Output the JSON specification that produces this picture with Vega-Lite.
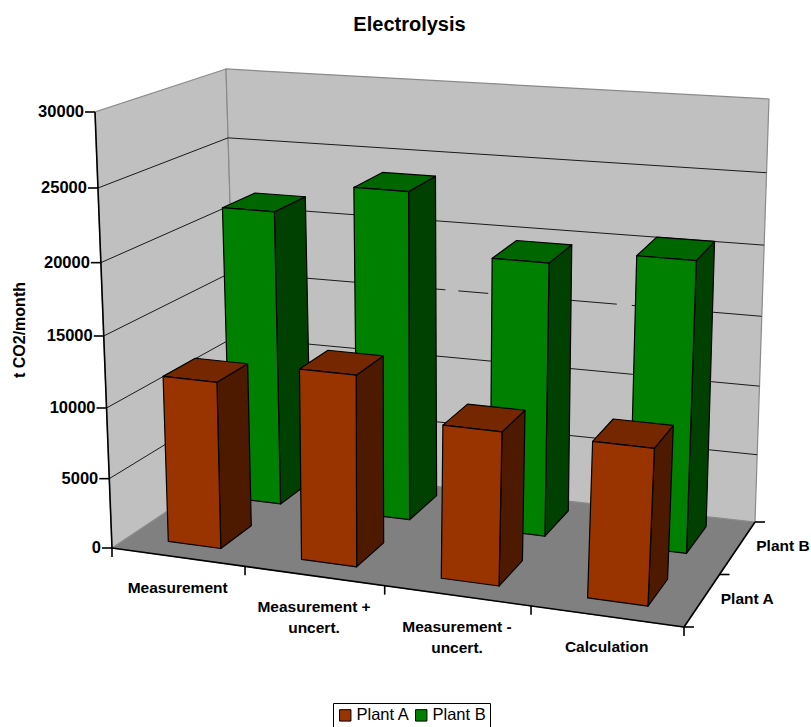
{
  "$schema": "https://vega.github.io/schema/vega-lite/v6.json",
  "width": 811,
  "height": 727,
  "padding": 0,
  "autosize": {"type": "none"},
  "background": "white",
  "config": {"view": {"stroke": null}},
  "title": {"text": "Electrolysis", "font": "Liberation Sans", "fontSize": 20, "fontWeight": "bold", "color": "#000", "anchor": "middle", "frame": "group", "dx": 4, "dy": 39},
  "datasets": {
    "emissions": [
      {"category": "Measurement", "plant": "Plant B", "value": 21500},
      {"category": "Measurement + uncert.", "plant": "Plant B", "value": 23650},
      {"category": "Measurement - uncert.", "plant": "Plant B", "value": 19500},
      {"category": "Calculation", "plant": "Plant B", "value": 20500},
      {"category": "Measurement", "plant": "Plant A", "value": 11850},
      {"category": "Measurement + uncert.", "plant": "Plant A", "value": 13400},
      {"category": "Measurement - uncert.", "plant": "Plant A", "value": 10650},
      {"category": "Calculation", "plant": "Plant A", "value": 10700}
    ],
    "levels": [{"v": 5000}, {"v": 10000}, {"v": 15000}, {"v": 20000}, {"v": 25000}, {"v": 30000}],
    "ticks": [
      {"axis": "value", "t": 0}, {"axis": "value", "t": 5000}, {"axis": "value", "t": 10000}, {"axis": "value", "t": 15000},
      {"axis": "value", "t": 20000}, {"axis": "value", "t": 25000}, {"axis": "value", "t": 30000},
      {"axis": "cat", "t": 0}, {"axis": "cat", "t": 0.25}, {"axis": "cat", "t": 0.5}, {"axis": "cat", "t": 0.75}, {"axis": "cat", "t": 1},
      {"axis": "depth", "t": 0}, {"axis": "depth", "t": 0.5}, {"axis": "depth", "t": 1}
    ]
  },
  "encoding": {
    "x": {"field": "px", "type": "quantitative", "axis": null, "scale": {"domain": [0, 811], "range": [0, 811], "nice": false, "zero": false}},
    "y": {"field": "py", "type": "quantitative", "axis": null, "scale": {"domain": [0, 727], "range": [0, 727], "nice": false, "zero": false}}
  },
  "layer": [
    {
      "data": {"values": [{"surface": "floor"}, {"surface": "left wall"}, {"surface": "back wall"}]},
      "transform": [
        {"calculate": "[0,1,2,3]", "as": "k"},
        {"flatten": ["k"]},
        {"calculate": "datum.surface=='left wall' ? 0 : datum.surface=='back wall' ? [0,1,1,0][datum.k] : [0,1,1,0][datum.k]", "as": "u"},
        {"calculate": "datum.surface=='left wall' ? [0,1,1,0][datum.k] : datum.surface=='back wall' ? 1 : [0,0,1,1][datum.k]", "as": "w"},
        {"calculate": "datum.surface=='left wall' ? [0,0,1,1][datum.k] : datum.surface=='back wall' ? [0,0,1,1][datum.k] : 0", "as": "h"},
        {"calculate": "datum.u-0.093*datum.u*(1-datum.u)", "as": "uu"},
        {"calculate": "datum.h-0.055*datum.h*(1-datum.h)", "as": "hh"},
        {"calculate": "(1-datum.hh)*((1-datum.w)*((1-datum.uu)*112+datum.uu*684)+datum.w*((1-datum.uu)*238+datum.uu*755))+datum.hh*((1-datum.w)*((1-datum.uu)*95+datum.uu*707)+datum.w*((1-datum.uu)*226+datum.uu*769))", "as": "px"},
        {"calculate": "(1-datum.hh)*((1-datum.w)*((1-datum.uu)*548+datum.uu*627)+datum.w*((1-datum.uu)*464+datum.uu*522))+datum.hh*((1-datum.w)*((1-datum.uu)*112+datum.uu*160)+datum.w*((1-datum.uu)*69+datum.uu*99))", "as": "py"}
      ],
      "mark": {"type": "line", "interpolate": "linear-closed", "stroke": "#8a8a8a", "strokeWidth": 1.2},
      "encoding": {
        "fill": {"field": "surface", "type": "nominal", "scale": {"domain": ["Plant A", "Plant B", "Plant A top", "Plant B top", "Plant A side", "Plant B side", "floor", "left wall", "back wall"], "range": ["#993300", "#008000", "#752800", "#006600", "#4d1a00", "#004000", "#808080", "#c0c0c0", "#c0c0c0"]}, "legend": {"values": ["Plant A", "Plant B"], "title": null, "orient": "none", "legendX": 333, "legendY": 703, "direction": "horizontal", "columns": 2, "columnPadding": 3, "symbolType": "square", "symbolSize": 130, "symbolStrokeColor": "#000", "symbolStrokeWidth": 1, "labelFont": "Liberation Sans", "labelFontSize": 16.5, "labelColor": "#000", "labelOffset": 3, "strokeColor": "#000", "fillColor": "#fff", "padding": 4, "symbolOpacity": 1}},
        "order": {"field": "k"}
      }
    },
    {
      "data": {"name": "levels"},
      "transform": [
        {"calculate": "[0,1]", "as": "k"},
        {"flatten": ["k"]},
        {"calculate": "0", "as": "u"},
        {"calculate": "datum.k", "as": "w"},
        {"calculate": "datum.v/30000", "as": "h"},
        {"calculate": "datum.u-0.093*datum.u*(1-datum.u)", "as": "uu"},
        {"calculate": "datum.h-0.055*datum.h*(1-datum.h)", "as": "hh"},
        {"calculate": "(1-datum.hh)*((1-datum.w)*((1-datum.uu)*112+datum.uu*684)+datum.w*((1-datum.uu)*238+datum.uu*755))+datum.hh*((1-datum.w)*((1-datum.uu)*95+datum.uu*707)+datum.w*((1-datum.uu)*226+datum.uu*769))", "as": "px"},
        {"calculate": "(1-datum.hh)*((1-datum.w)*((1-datum.uu)*548+datum.uu*627)+datum.w*((1-datum.uu)*464+datum.uu*522))+datum.hh*((1-datum.w)*((1-datum.uu)*112+datum.uu*160)+datum.w*((1-datum.uu)*69+datum.uu*99))", "as": "py"},
        {"filter": "datum.v<30000"}
      ],
      "mark": {"type": "line", "stroke": "#1a1a1a", "strokeWidth": 1},
      "encoding": {"detail": {"field": "v"}, "order": {"field": "k"}}
    },
    {
      "data": {"name": "levels"},
      "transform": [
        {"filter": "datum.v<30000 && datum.v!=15000"},
        {"calculate": "[0,1]", "as": "u"},
        {"flatten": ["u"]},
        {"calculate": "1", "as": "w"},
        {"calculate": "datum.v/30000", "as": "h"},
        {"calculate": "datum.u-0.093*datum.u*(1-datum.u)", "as": "uu"},
        {"calculate": "datum.h-0.055*datum.h*(1-datum.h)", "as": "hh"},
        {"calculate": "(1-datum.hh)*((1-datum.w)*((1-datum.uu)*112+datum.uu*684)+datum.w*((1-datum.uu)*238+datum.uu*755))+datum.hh*((1-datum.w)*((1-datum.uu)*95+datum.uu*707)+datum.w*((1-datum.uu)*226+datum.uu*769))", "as": "px"},
        {"calculate": "(1-datum.hh)*((1-datum.w)*((1-datum.uu)*548+datum.uu*627)+datum.w*((1-datum.uu)*464+datum.uu*522))+datum.hh*((1-datum.w)*((1-datum.uu)*112+datum.uu*160)+datum.w*((1-datum.uu)*69+datum.uu*99))", "as": "py"}
      ],
      "mark": {"type": "line", "stroke": "#1a1a1a", "strokeWidth": 1},
      "encoding": {"detail": {"field": "v"}, "order": {"field": "u"}}
    },
    {
      "data": {"name": "levels"},
      "transform": [
        {"filter": "datum.v==15000"},
        {"calculate": "[0,1]", "as": "u"},
        {"flatten": ["u"]},
        {"calculate": "1", "as": "w"},
        {"calculate": "datum.v/30000", "as": "h"},
        {"calculate": "datum.u-0.093*datum.u*(1-datum.u)", "as": "uu"},
        {"calculate": "datum.h-0.055*datum.h*(1-datum.h)", "as": "hh"},
        {"calculate": "(1-datum.hh)*((1-datum.w)*((1-datum.uu)*112+datum.uu*684)+datum.w*((1-datum.uu)*238+datum.uu*755))+datum.hh*((1-datum.w)*((1-datum.uu)*95+datum.uu*707)+datum.w*((1-datum.uu)*226+datum.uu*769))", "as": "px"},
        {"calculate": "(1-datum.hh)*((1-datum.w)*((1-datum.uu)*548+datum.uu*627)+datum.w*((1-datum.uu)*464+datum.uu*522))+datum.hh*((1-datum.w)*((1-datum.uu)*112+datum.uu*160)+datum.w*((1-datum.uu)*69+datum.uu*99))", "as": "py"}
      ],
      "mark": {"type": "line", "stroke": "#1a1a1a", "strokeWidth": 1, "strokeDash": [214, 13, 30, 7, 122, 15, 200, 0]},
      "encoding": {"detail": {"field": "v"}, "order": {"field": "u"}}
    },
    {
      "data": {"name": "emissions"},
      "transform": [
        {"calculate": "['side','top','front']", "as": "face"},
        {"flatten": ["face"]},
        {"calculate": "[0,1,2,3]", "as": "k"},
        {"flatten": ["k"]},
        {"calculate": "indexof(['Measurement','Measurement + uncert.','Measurement - uncert.','Calculation'],datum.category)", "as": "i"},
        {"calculate": "datum.plant + (datum.face=='front' ? '' : ' ' + datum.face)", "as": "shade"},
        {"calculate": "datum.plant + datum.category + datum.face", "as": "facet"},
        {"calculate": "datum.i*0.25+0.075", "as": "u0"},
        {"calculate": "datum.i*0.25+0.175", "as": "u1"},
        {"calculate": "datum.plant=='Plant A' ? 0.14 : 0.65", "as": "w0"},
        {"calculate": "datum.plant=='Plant A' ? 0.40 : 0.91", "as": "w1"},
        {"calculate": "datum.value/30000", "as": "top"},
        {"calculate": "datum.face=='side' ? datum.u1 : [datum.u0,datum.u1,datum.u1,datum.u0][datum.k]", "as": "u"},
        {"calculate": "datum.face=='front' ? datum.w0 : datum.face=='side' ? [datum.w0,datum.w1,datum.w1,datum.w0][datum.k] : [datum.w0,datum.w0,datum.w1,datum.w1][datum.k]", "as": "w"},
        {"calculate": "datum.face=='top' ? datum.top : [0,0,datum.top,datum.top][datum.k]", "as": "h"},
        {"calculate": "datum.u-0.093*datum.u*(1-datum.u)", "as": "uu"},
        {"calculate": "datum.h-0.055*datum.h*(1-datum.h)", "as": "hh"},
        {"calculate": "(1-datum.hh)*((1-datum.w)*((1-datum.uu)*112+datum.uu*684)+datum.w*((1-datum.uu)*238+datum.uu*755))+datum.hh*((1-datum.w)*((1-datum.uu)*95+datum.uu*707)+datum.w*((1-datum.uu)*226+datum.uu*769))", "as": "px"},
        {"calculate": "(1-datum.hh)*((1-datum.w)*((1-datum.uu)*548+datum.uu*627)+datum.w*((1-datum.uu)*464+datum.uu*522))+datum.hh*((1-datum.w)*((1-datum.uu)*112+datum.uu*160)+datum.w*((1-datum.uu)*69+datum.uu*99))", "as": "py"}
      ],
      "mark": {"type": "line", "interpolate": "linear-closed", "stroke": "#000", "strokeWidth": 1.2, "strokeJoin": "round"},
      "encoding": {
        "fill": {"field": "shade", "type": "nominal"},
        "detail": {"field": "facet"},
        "order": {"field": "k"}
      }
    },
    {
      "data": {"values": [{"edge": "value", "a": 0}, {"edge": "value", "a": 1}, {"edge": "category", "a": 0}, {"edge": "category", "a": 1}, {"edge": "depth", "a": 0}, {"edge": "depth", "a": 1}]},
      "transform": [
        {"calculate": "datum.edge=='category' ? datum.a : datum.edge=='depth' ? 1 : 0", "as": "u"},
        {"calculate": "datum.edge=='depth' ? datum.a : 0", "as": "w"},
        {"calculate": "datum.edge=='value' ? datum.a : 0", "as": "h"},
        {"calculate": "datum.u-0.093*datum.u*(1-datum.u)", "as": "uu"},
        {"calculate": "datum.h-0.055*datum.h*(1-datum.h)", "as": "hh"},
        {"calculate": "(1-datum.hh)*((1-datum.w)*((1-datum.uu)*112+datum.uu*684)+datum.w*((1-datum.uu)*238+datum.uu*755))+datum.hh*((1-datum.w)*((1-datum.uu)*95+datum.uu*707)+datum.w*((1-datum.uu)*226+datum.uu*769))", "as": "px"},
        {"calculate": "(1-datum.hh)*((1-datum.w)*((1-datum.uu)*548+datum.uu*627)+datum.w*((1-datum.uu)*464+datum.uu*522))+datum.hh*((1-datum.w)*((1-datum.uu)*112+datum.uu*160)+datum.w*((1-datum.uu)*69+datum.uu*99))", "as": "py"}
      ],
      "mark": {"type": "line", "stroke": "#000", "strokeWidth": 1.6},
      "encoding": {"detail": {"field": "edge"}, "order": {"field": "a"}}
    },
    {
      "data": {"name": "ticks"},
      "transform": [
        {"calculate": "datum.axis=='cat' ? datum.t : datum.axis=='depth' ? 1 : 0", "as": "u"},
        {"calculate": "datum.axis=='depth' ? datum.t : 0", "as": "w"},
        {"calculate": "datum.axis=='value' ? datum.t/30000 : 0", "as": "h"},
        {"calculate": "datum.u-0.093*datum.u*(1-datum.u)", "as": "uu"},
        {"calculate": "datum.h-0.055*datum.h*(1-datum.h)", "as": "hh"},
        {"calculate": "(1-datum.hh)*((1-datum.w)*((1-datum.uu)*112+datum.uu*684)+datum.w*((1-datum.uu)*238+datum.uu*755))+datum.hh*((1-datum.w)*((1-datum.uu)*95+datum.uu*707)+datum.w*((1-datum.uu)*226+datum.uu*769))", "as": "px"},
        {"calculate": "(1-datum.hh)*((1-datum.w)*((1-datum.uu)*548+datum.uu*627)+datum.w*((1-datum.uu)*464+datum.uu*522))+datum.hh*((1-datum.w)*((1-datum.uu)*112+datum.uu*160)+datum.w*((1-datum.uu)*69+datum.uu*99))", "as": "py"},
        {"calculate": "datum.px+(datum.axis=='value' ? -10 : datum.axis=='depth' ? 10 : 0)", "as": "px2"},
        {"calculate": "datum.py+(datum.axis=='cat' ? 9 : 0)", "as": "py2"}
      ],
      "mark": {"type": "rule", "stroke": "#000", "strokeWidth": 1.6},
      "encoding": {"x2": {"field": "px2"}, "y2": {"field": "py2"}}
    },
    {
      "data": {"name": "ticks"},
      "transform": [
        {"filter": "datum.axis=='value'"},
        {"calculate": "datum.t/30000", "as": "h"},
        {"calculate": "datum.h-0.055*datum.h*(1-datum.h)", "as": "hh"},
        {"calculate": "(1-datum.hh)*112+datum.hh*95", "as": "px"},
        {"calculate": "(1-datum.hh)*548+datum.hh*112", "as": "py"}
      ],
      "mark": {"type": "text", "align": "right", "baseline": "middle", "dx": -11, "font": "Liberation Sans", "fontSize": 16.5, "fontWeight": "bold", "fill": "#000"},
      "encoding": {"text": {"field": "t", "type": "quantitative", "format": "d"}}
    },
    {
      "data": {"name": "emissions"},
      "transform": [
        {"filter": "datum.plant=='Plant A'"},
        {"calculate": "indexof(['Measurement','Measurement + uncert.','Measurement - uncert.','Calculation'],datum.category)*0.25+0.125", "as": "u"},
        {"calculate": "datum.u-0.093*datum.u*(1-datum.u)", "as": "uu"},
        {"calculate": "(1-datum.uu)*112+datum.uu*684", "as": "px"},
        {"calculate": "(1-datum.uu)*548+datum.uu*627", "as": "py"},
        {"calculate": "replace(datum.category,' uncert.','\\nuncert.')", "as": "label"}
      ],
      "mark": {"type": "text", "align": "center", "baseline": "top", "dy": 24, "lineBreak": "\n", "lineHeight": 21, "font": "Liberation Sans", "fontSize": 15.5, "fontWeight": "bold", "fill": "#000"},
      "encoding": {"text": {"field": "label"}}
    },
    {
      "data": {"values": [{"plant": "Plant A", "w": 0.25}, {"plant": "Plant B", "w": 0.75}]},
      "transform": [
        {"calculate": "(1-datum.w)*684+datum.w*755", "as": "px"},
        {"calculate": "(1-datum.w)*627+datum.w*522", "as": "py"}
      ],
      "mark": {"type": "text", "align": "left", "baseline": "middle", "dx": 19, "dy": -2, "font": "Liberation Sans", "fontSize": 15.5, "fontWeight": "bold", "fill": "#000"},
      "encoding": {"text": {"field": "plant"}}
    },
    {
      "data": {"values": [{"label": "t CO2/month", "value_at": 15000}]},
      "transform": [
        {"calculate": "datum.value_at/30000*(112-548)+548", "as": "py"},
        {"calculate": "20", "as": "px"}
      ],
      "mark": {"type": "text", "align": "center", "baseline": "middle", "angle": 270, "font": "Liberation Sans", "fontSize": 16, "fontWeight": "bold", "fill": "#000"},
      "encoding": {"text": {"field": "label"}}
    }
  ]
}
